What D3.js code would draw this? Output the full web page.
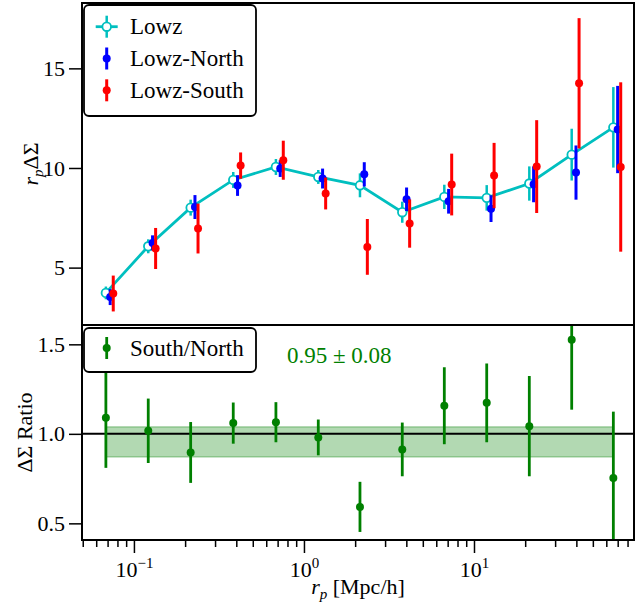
<!DOCTYPE html>
<html>
<head>
<meta charset="utf-8">
<script src="https://cdn.jsdelivr.net/npm/d3@7"></script>
<style>
  body { margin: 0; background: #fff; }
  svg text { font-family: "Liberation Serif", "DejaVu Serif", serif; }
</style>
</head>
<body>
<svg id="chart" width="644" height="603"></svg>
<script>
// ---------------- data ----------------
const rp        = [0.0684, 0.1214, 0.2156, 0.3838, 0.684, 1.214, 2.135, 3.786, 6.69, 11.88, 21.15, 37.55, 66.0];
const lowz      = [3.73, 6.07, 8.01, 9.40, 10.05, 9.55, 9.13, 7.78, 8.55, 8.50, 9.22, 10.67, 12.04];
const lowzErr   = [0.32, 0.35, 0.40, 0.40, 0.40, 0.35, 0.60, 0.53, 0.61, 0.64, 0.86, 1.30, 2.02];
const north     = [3.52, 6.24, 8.04, 9.12, 9.97, 9.47, 9.68, 8.43, 8.33, 7.96, 9.18, 9.77, 11.93];
const northErr  = [0.40, 0.38, 0.60, 0.52, 0.42, 0.50, 0.61, 0.59, 0.62, 0.67, 0.90, 1.36, 2.19];
const south     = [3.70, 5.96, 6.96, 10.12, 10.39, 8.72, 6.04, 7.21, 9.17, 9.62, 10.07, 14.25, 10.05];
const southErr  = [0.90, 1.03, 1.25, 0.66, 0.98, 0.80, 1.40, 1.21, 1.55, 1.64, 2.33, 3.27, 4.25];
const ratio     = [1.09, 1.017, 0.896, 1.06, 1.065, 0.98, 0.592, 0.913, 1.157, 1.173, 1.043, 1.525, 0.754];
const ratioErr  = [0.28, 0.18, 0.17, 0.115, 0.112, 0.10, 0.14, 0.15, 0.215, 0.22, 0.28, 0.39, 0.37];
const fitMean   = 0.955;
const fitSigma  = 0.084;
const fitLabel  = "0.95 \u00B1 0.08";
const northShift = 1.06, southShift = 1.105;
const topTicks  = [5, 10, 15];
const botTicks  = [0.5, 1.0, 1.5];
const botTickLabels = ["0.5", "1.0", "1.5"];
const xMajor    = [0.1, 1, 10];
const xMajorExp = ["\u22121", "0", "1"];
const legendTop = ["Lowz", "Lowz-North", "Lowz-South"];
const legendBot = ["South/North"];

// ---------------- layout ----------------
const L = 82, R = 634, T1 = 3, B1 = 325, T2 = 325, B2 = 540;
const cCyan = "#00BFBF", cBlue = "#0000FF", cRed = "#FF0000", cGreen = "#008000";
const svg = d3.select("#chart");

const x = d3.scaleLog().domain([0.0495, 87.3]).range([L, R]);
const yT = d3.scaleLinear().domain([2.12, 18.28]).range([B1, T1]);
const yB = d3.scaleLinear().domain([0.407, 1.608]).range([B2, T2]);

const defs = svg.append("defs");
defs.append("clipPath").attr("id", "clipT").append("rect")
  .attr("x", L).attr("y", T1).attr("width", R - L).attr("height", B1 - T1);
defs.append("clipPath").attr("id", "clipB").append("rect")
  .attr("x", L).attr("y", T2).attr("width", R - L).attr("height", B2 - T2);

// ---------------- top panel ----------------
const gT = svg.append("g").attr("clip-path", "url(#clipT)");
const idx = d3.range(rp.length);

function errSeries(g, vals, errs, shift, color, width, yScale) {
  g.selectAll(null).data(idx).enter().append("line")
    .attr("x1", i => x(rp[i] * shift)).attr("x2", i => x(rp[i] * shift))
    .attr("y1", i => yScale(vals[i] - errs[i])).attr("y2", i => yScale(vals[i] + errs[i]))
    .attr("stroke", color).attr("stroke-width", width);
}

// Lowz
errSeries(gT, lowz, lowzErr, 1, cCyan, 2.5, yT);
gT.append("path").datum(idx)
  .attr("d", d3.line().x(i => x(rp[i])).y(i => yT(lowz[i])))
  .attr("fill", "none").attr("stroke", cCyan).attr("stroke-width", 2.8);
gT.selectAll(null).data(idx).enter().append("circle")
  .attr("cx", i => x(rp[i])).attr("cy", i => yT(lowz[i])).attr("r", 4.3)
  .attr("fill", "#fff").attr("stroke", cCyan).attr("stroke-width", 1.8);

// North
errSeries(gT, north, northErr, northShift, cBlue, 3, yT);
gT.selectAll(null).data(idx).enter().append("circle")
  .attr("cx", i => x(rp[i] * northShift)).attr("cy", i => yT(north[i])).attr("r", 4)
  .attr("fill", cBlue);

// South
errSeries(gT, south, southErr, southShift, cRed, 3, yT);
gT.selectAll(null).data(idx).enter().append("circle")
  .attr("cx", i => x(rp[i] * southShift)).attr("cy", i => yT(south[i])).attr("r", 4)
  .attr("fill", cRed);

// ---------------- bottom panel ----------------
const gB = svg.append("g").attr("clip-path", "url(#clipB)");
gB.append("rect")
  .attr("x", x(rp[0])).attr("width", x(rp[rp.length - 1]) - x(rp[0]))
  .attr("y", yB(fitMean + fitSigma)).attr("height", yB(fitMean - fitSigma) - yB(fitMean + fitSigma))
  .attr("fill", cGreen).attr("fill-opacity", 0.3)
  .attr("stroke", cGreen).attr("stroke-opacity", 0.3).attr("stroke-width", 1.5);
gB.append("line")
  .attr("x1", L).attr("x2", R).attr("y1", yB(1)).attr("y2", yB(1))
  .attr("stroke", "#000").attr("stroke-width", 2);
errSeries(gB, ratio, ratioErr, 1, cGreen, 2.8, yB);
gB.selectAll(null).data(idx).enter().append("circle")
  .attr("cx", i => x(rp[i])).attr("cy", i => yB(ratio[i])).attr("r", 4)
  .attr("fill", cGreen);

svg.append("text").attr("x", 287).attr("y", 363)
  .attr("font-size", 23).attr("fill", cGreen).text(fitLabel);

// ---------------- axes ----------------
function styleAxis(g) {
  g.select(".domain").remove();
  g.selectAll(".tick line").attr("stroke", "#000").attr("stroke-width", 1.5);
  g.selectAll(".tick text").attr("font-size", 22).attr("fill", "#000")
    .style("font-family", "Liberation Serif");
}
svg.append("g").attr("transform", `translate(${L},0)`)
  .call(d3.axisLeft(yT).tickValues(topTicks).tickSize(13).tickPadding(4).tickFormat(d3.format("d")))
  .call(styleAxis);
svg.append("g").attr("transform", `translate(${L},0)`)
  .call(d3.axisLeft(yB).tickValues(botTicks).tickSize(13).tickPadding(4)
    .tickFormat((d, i) => botTickLabels[i]))
  .call(styleAxis);

// x minor ticks
const minor = [];
[0.01, 0.1, 1, 10].forEach(dec => { for (let k = 2; k <= 9; k++) { const v = dec * k; if (v >= 0.0495 && v <= 87.3) minor.push(v); } });
svg.append("g").attr("transform", `translate(0,${B2})`)
  .call(d3.axisBottom(x).tickValues(minor).tickSize(7).tickFormat(() => ""))
  .call(styleAxis);
const xMaj = svg.append("g").attr("transform", `translate(0,${B2})`)
  .call(d3.axisBottom(x).tickValues(xMajor).tickSize(13).tickFormat(() => ""))
  .call(styleAxis);
xMaj.selectAll(".tick").each(function (d, i) {
  const g = d3.select(this);
  const base = g.append("text").attr("y", 37).attr("text-anchor", "start")
    .attr("font-size", 22).attr("fill", "#000").text("10");
  const sup = g.append("text").attr("y", 28).attr("text-anchor", "start")
    .attr("font-size", 15).attr("fill", "#000").text(xMajorExp[i]);
  const w1 = base.node().getComputedTextLength();
  const w2 = sup.node().getComputedTextLength();
  const x0 = -(w1 + w2) / 2;
  base.attr("x", x0);
  sup.attr("x", x0 + w1);
});

// frames
svg.append("rect").attr("x", L).attr("y", T1).attr("width", R - L).attr("height", B1 - T1)
  .attr("fill", "none").attr("stroke", "#000").attr("stroke-width", 2);
svg.append("rect").attr("x", L).attr("y", T2).attr("width", R - L).attr("height", B2 - T2)
  .attr("fill", "none").attr("stroke", "#000").attr("stroke-width", 2);

// ---------------- labels ----------------
const yl1 = svg.append("text").attr("transform", `translate(38,${(T1 + B1) / 2}) rotate(-90)`)
  .attr("text-anchor", "middle").attr("font-size", 22);
yl1.append("tspan").attr("font-style", "italic").text("r");
yl1.append("tspan").attr("font-style", "italic").attr("font-size", 15).attr("dy", 5).text("p");
yl1.append("tspan").attr("dy", -5).text("\u0394\u03A3");

svg.append("text").attr("transform", `translate(32,${(T2 + B2) / 2}) rotate(-90)`)
  .attr("text-anchor", "middle").attr("font-size", 22).text("\u0394\u03A3 Ratio");

const xl = svg.append("text").attr("x", 358).attr("y", 594)
  .attr("text-anchor", "middle").attr("font-size", 22);
xl.append("tspan").attr("font-style", "italic").text("r");
xl.append("tspan").attr("font-style", "italic").attr("font-size", 15).attr("dy", 5).text("p");
xl.append("tspan").attr("dy", -5).text(" [Mpc/h]");

// ---------------- legends ----------------
function legendBox(x0, y0, w, h) {
  svg.append("rect").attr("x", x0).attr("y", y0).attr("width", w).attr("height", h)
    .attr("rx", 5).attr("fill", "#fff").attr("stroke", "#000").attr("stroke-width", 1.8);
}
legendBox(84, 5, 172, 111);
const lx = 106.7, rowY = [26.7, 58.5, 90.3];
const legColors = [cCyan, cBlue, cRed];
legendTop.forEach((name, i) => {
  const cy = rowY[i];
  svg.append("line").attr("x1", lx).attr("x2", lx).attr("y1", cy - 11).attr("y2", cy + 11)
    .attr("stroke", legColors[i]).attr("stroke-width", i === 0 ? 2.5 : 3);
  if (i === 0) {
    svg.append("line").attr("x1", lx - 11).attr("x2", lx + 11).attr("y1", cy).attr("y2", cy)
      .attr("stroke", cCyan).attr("stroke-width", 2.8);
    svg.append("circle").attr("cx", lx).attr("cy", cy).attr("r", 4.3)
      .attr("fill", "#fff").attr("stroke", cCyan).attr("stroke-width", 1.8);
  } else {
    svg.append("circle").attr("cx", lx).attr("cy", cy).attr("r", 4).attr("fill", legColors[i]);
  }
  svg.append("text").attr("x", 130).attr("y", cy + 7.5).attr("font-size", 23).text(name);
});

legendBox(84, 328, 172, 44);
svg.append("line").attr("x1", lx).attr("x2", lx).attr("y1", 337).attr("y2", 359)
  .attr("stroke", cGreen).attr("stroke-width", 2.8);
svg.append("circle").attr("cx", lx).attr("cy", 348).attr("r", 4).attr("fill", cGreen);
svg.append("text").attr("x", 130).attr("y", 355.5).attr("font-size", 23).text(legendBot[0]);
</script>
</body>
</html>
